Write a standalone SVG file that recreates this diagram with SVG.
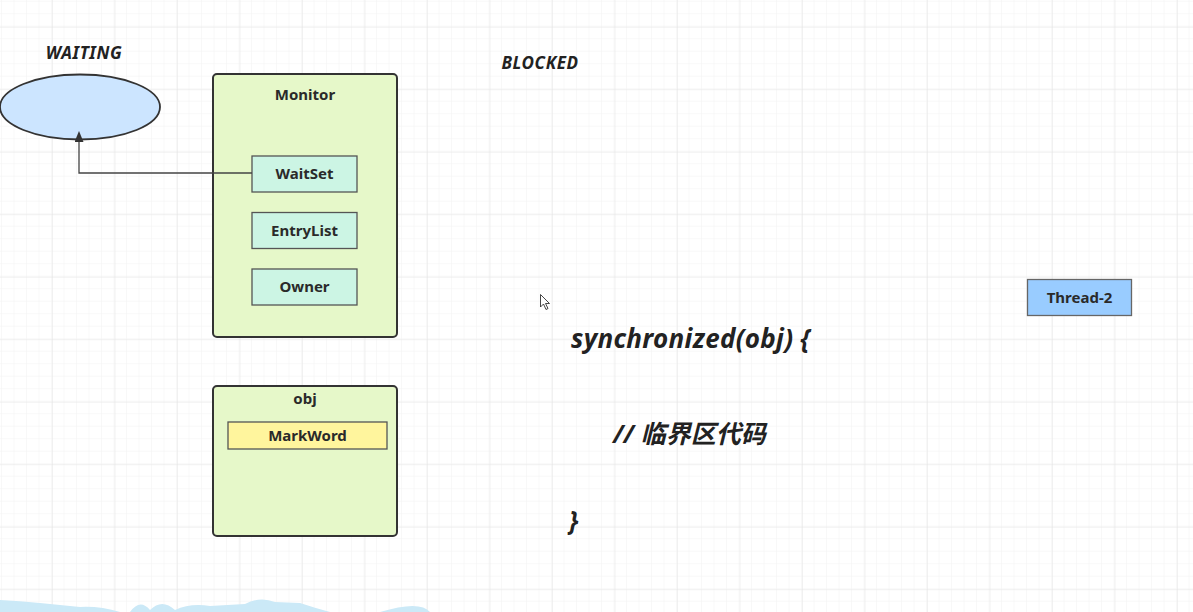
<svg xmlns="http://www.w3.org/2000/svg" width="1193" height="612" viewBox="0 0 1193 612">
<defs>
<pattern id="minor" x="2" y="1.7" width="12.5" height="12.5" patternUnits="userSpaceOnUse">
<path d="M12.5 0V12.5M0 12.5H12.5" fill="none" stroke="#f2f2f2" stroke-width="1"/>
</pattern>
<pattern id="major" x="52" y="26.7" width="62.5" height="62.5" patternUnits="userSpaceOnUse">
<path d="M0 0V62.5M0 0H62.5" fill="none" stroke="#e3e3e3" stroke-width="1"/>
</pattern>
<marker id="arr" viewBox="0 0 10 12" refX="5" refY="11" markerWidth="9" markerHeight="11" markerUnits="userSpaceOnUse" orient="0">
<path d="M0 12L5 0L10 12Z" fill="#333"/>
</marker>
<style>
.lbl{font-family:"Noto Sans","Open Sans","DejaVu Sans",sans-serif;font-weight:bold;font-size:15px;fill:#2a2a2a;text-anchor:middle}
.it{font-family:"Noto Sans","Open Sans","Noto Sans CJK SC",sans-serif;font-weight:bold;font-style:italic;fill:#222}
.box{stroke:#333;stroke-width:2}
.sub{stroke:#555;stroke-width:1.3}
</style>
</defs>
<rect width="1193" height="612" fill="#fff"/>
<rect width="1193" height="612" fill="url(#minor)"/>
<rect width="1193" height="612" fill="url(#major)"/>

<path d="M0 600 Q20 601 40 603 L80 607 Q100 606 120 612 L0 612Z M130 612 Q140 598 150 610 Q162 598 175 610 Q190 603 210 606 L245 604 Q260 596 275 602 L300 603 Q315 608 330 612Z M380 612 Q420 600 430 612Z M405 612 Q415 604 425 612Z" fill="#cbe9f7"/>

<g id="waiting">
<ellipse cx="80" cy="107" rx="80" ry="32.5" fill="#cce5ff" stroke="#333" stroke-width="1.8"/>
<text class="it" x="84" y="59" font-size="17" letter-spacing="0.6" text-anchor="middle">WAITING</text>
</g>

<g id="monitor">
<rect class="box" x="213" y="74" width="184" height="263" rx="4" fill="#e6f8c9"/>
<text class="lbl" x="305" y="100">Monitor</text>
</g>

<g id="waitset">
<rect class="sub" x="252" y="156" width="105" height="36" fill="#ccf5e4"/>
<text class="lbl" x="304.5" y="179">WaitSet</text>
</g>
<g id="entrylist">
<rect class="sub" x="252" y="212.5" width="105" height="36" fill="#ccf5e4"/>
<text class="lbl" x="304.5" y="235.5">EntryList</text>
</g>
<g id="owner">
<rect class="sub" x="252" y="269" width="105" height="36" fill="#ccf5e4"/>
<text class="lbl" x="304.5" y="292">Owner</text>
</g>

<g id="obj">
<rect class="box" x="213" y="386" width="184" height="150" rx="4" fill="#e6f8c9"/>
<text class="lbl" x="305" y="404">obj</text>
</g>
<g id="markword">
<rect class="sub" x="228" y="422" width="159" height="27" fill="#fff59d" stroke="#777"/>
<text class="lbl" x="307.5" y="441">MarkWord</text>
</g>

<g id="blocked">
<text class="it" x="540" y="69" font-size="17" letter-spacing="0.6" text-anchor="middle">BLOCKED</text>
</g>

<g id="thread2">
<rect x="1027.5" y="279.5" width="104" height="36" fill="#99ccff" stroke="#666" stroke-width="1.3"/>
<text class="lbl" x="1079.5" y="303">Thread-2</text>
</g>

<g id="code">
<text class="it" x="571" y="348" font-size="26" letter-spacing="0.3">synchronized(obj) {</text>
<text class="it" x="613" y="443" font-size="25" style="font-family:'Noto Sans','Noto Sans CJK SC',sans-serif">// 临界区代码</text>
<text class="it" x="569" y="530" font-size="26">}</text>
</g>

<g id="cursor">
<path d="M540.5 294.5V307L543.5 304L546 309.5L548 308.5L545.5 303.5L549.5 303.5Z" fill="#fff" stroke="#333" stroke-width="0.9"/>
</g>

<g id="connectors">
<path d="M252 173H79V141" fill="none" stroke="#444" stroke-width="1.3" marker-end="url(#arr)"/>
</g>
</svg>
